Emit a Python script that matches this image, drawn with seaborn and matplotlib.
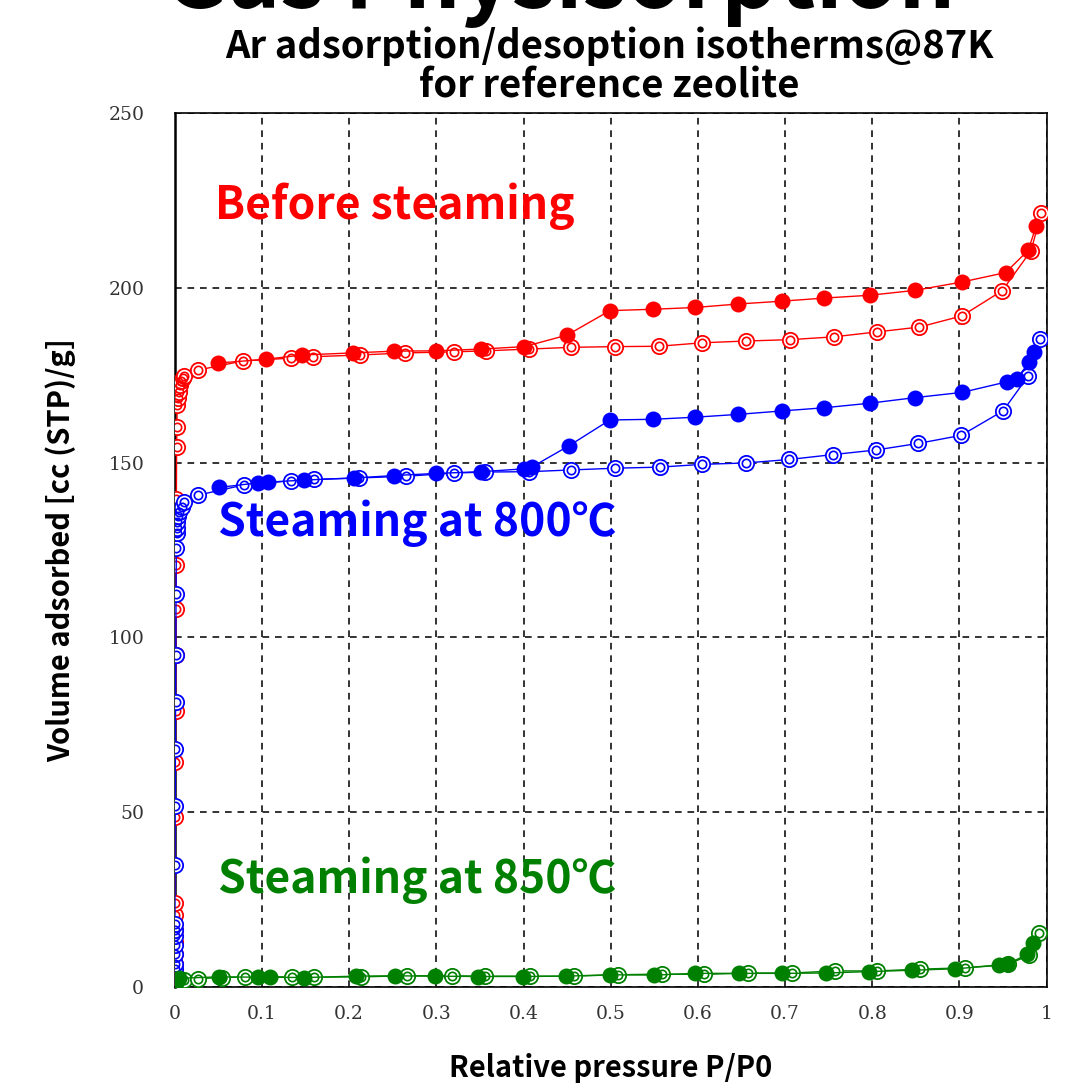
import numpy as np
import pandas as pd
import matplotlib
matplotlib.use("Agg")
import matplotlib.pyplot as plt
import seaborn as sns

# ---- Isotherm data: relative pressure P/P0 and adsorbed volume [cc(STP)/g] ----
# Before steaming
red_ads_x = [0.00002, 0.00004, 0.00007, 0.0001, 0.00013, 0.00016, 0.0002, 0.00025,
             0.0005, 0.0007, 0.0009, 0.0011, 0.0013, 0.0015, 0.0018, 0.0021, 0.0024,
             0.0028, 0.0035, 0.0045, 0.006, 0.0075, 0.009, 0.011, 0.027, 0.078,
             0.133, 0.158, 0.212, 0.264, 0.320, 0.357, 0.406, 0.455, 0.505, 0.555,
             0.605, 0.655, 0.706, 0.756, 0.805, 0.854, 0.903, 0.949, 0.982, 0.994]
red_ads_y = [1.5, 4.0, 6.6, 9.2, 12.7, 16.1, 20.5, 23.9, 48.6, 64.2, 79.0, 94.8,
             108.2, 120.8, 139.6, 154.4, 160.3, 166.5, 168.5, 170.3, 172.2, 173.3,
             174.1, 174.8, 176.5, 179.1, 179.9, 180.3, 180.8, 181.4, 181.7, 182.0,
             182.5, 183.0, 183.2, 183.3, 184.3, 184.8, 185.2, 186.0, 187.4, 188.8,
             192.0, 199.2, 210.6, 221.5]
red_des_x = [0.988, 0.979, 0.953, 0.903, 0.849, 0.797, 0.745, 0.696, 0.646, 0.597,
             0.549, 0.499, 0.450, 0.401, 0.351, 0.300, 0.251, 0.204, 0.146, 0.105, 0.050]
red_des_y = [217.8, 210.8, 204.4, 201.7, 199.3, 197.9, 197.1, 196.2, 195.4, 194.4,
             193.9, 193.5, 186.5, 183.2, 182.5, 182.0, 181.9, 181.4, 180.8, 179.6, 178.5]

# Steaming at 800 C
blue_ads_x = [0.00002, 0.00004, 0.00006, 0.00008, 0.0001, 0.00012, 0.00014, 0.00016,
              0.00018, 0.0003, 0.0005, 0.0007, 0.0009, 0.0011, 0.0014, 0.0018, 0.0022,
              0.0026, 0.003, 0.0035, 0.005, 0.008, 0.011, 0.027, 0.079, 0.133, 0.160,
              0.211, 0.265, 0.320, 0.356, 0.406, 0.455, 0.505, 0.556, 0.605, 0.655,
              0.705, 0.755, 0.804, 0.853, 0.902, 0.950, 0.979, 0.992]
blue_ads_y = [1.0, 3.0, 5.0, 6.6, 9.2, 11.8, 14.5, 16.3, 17.8, 34.9, 51.8, 68.1,
              81.5, 94.8, 112.3, 125.6, 129.8, 131.3, 133.1, 134.6, 136.0, 137.4,
              138.6, 140.7, 143.6, 144.8, 145.2, 145.6, 146.1, 147.0, 147.3, 147.4,
              147.9, 148.4, 148.7, 149.5, 149.9, 150.9, 152.3, 153.6, 155.5, 157.8,
              164.8, 174.8, 185.3]
blue_des_x = [0.986, 0.980, 0.966, 0.954, 0.903, 0.849, 0.797, 0.745, 0.697, 0.646,
              0.597, 0.549, 0.499, 0.452, 0.410, 0.400, 0.351, 0.300, 0.252, 0.206,
              0.148, 0.107, 0.095, 0.051]
blue_des_y = [181.7, 178.9, 173.9, 173.1, 170.1, 168.6, 167.0, 165.7, 164.8, 163.8,
              163.0, 162.4, 162.2, 154.8, 148.8, 148.2, 147.4, 146.9, 146.3, 145.6,
              145.0, 144.4, 144.2, 142.9]

# Steaming at 850 C
green_ads_x = [0.0001, 0.0005, 0.001, 0.002, 0.004, 0.007, 0.011, 0.027, 0.054,
               0.081, 0.134, 0.160, 0.214, 0.266, 0.318, 0.356, 0.407, 0.458, 0.508,
               0.559, 0.607, 0.658, 0.708, 0.757, 0.806, 0.855, 0.906, 0.956, 0.980, 0.991]
green_ads_y = [0.2, 0.5, 0.9, 1.3, 1.6, 1.8, 2.0, 2.3, 2.6, 2.8, 2.8, 2.7, 2.8, 3.1,
               3.1, 3.0, 3.0, 3.0, 3.4, 3.6, 3.5, 3.9, 3.9, 4.5, 4.5, 5.0, 5.4, 6.4,
               9.0, 15.3]
green_des_x = [0.984, 0.978, 0.955, 0.945, 0.895, 0.846, 0.796, 0.747, 0.697, 0.647,
               0.597, 0.550, 0.499, 0.449, 0.399, 0.348, 0.298, 0.253, 0.208, 0.148,
               0.109, 0.095, 0.051, 0.005, 0.002, 0.0005]
green_des_y = [12.4, 9.3, 6.4, 6.1, 5.1, 4.7, 4.3, 3.9, 3.8, 3.8, 3.8, 3.3, 3.4, 3.0,
               2.9, 2.9, 3.0, 3.1, 3.0, 2.6, 2.7, 2.7, 2.8, 2.4, 1.5, 0.5]

x_ticks = [0, 0.1, 0.2, 0.3, 0.4, 0.5, 0.6, 0.7, 0.8, 0.9, 1]
x_tick_labels = ["0", "0.1", "0.2", "0.3", "0.4", "0.5", "0.6", "0.7", "0.8", "0.9", "1"]
y_ticks = [0, 50, 100, 150, 200, 250]

sample_labels = ["Before steaming", "Steaming at 800\u2103", "Steaming at 850\u2103"]
label_pos = [(0.046, 223.5), (0.049, 132.5), (0.049, 30.5)]
colors = ["#ff0000", "#0000ff", "#008000"]

series = [
    (red_ads_x, red_ads_y, red_des_x, red_des_y),
    (blue_ads_x, blue_ads_y, blue_des_x, blue_des_y),
    (green_ads_x, green_ads_y, green_des_x, green_des_y),
]

# ---- Figure ----
sns.set_theme(style="white")
plt.rcParams["font.family"] = ["Noto Sans CJK JP", "DejaVu Sans"]

fig = plt.figure(figsize=(10.79, 10.89), dpi=100)
ax = fig.add_axes([0.162, 0.094, 0.808, 0.802])

for (ax_x, ax_y, de_x, de_y), c in zip(series, colors):
    ads = pd.DataFrame({"p": ax_x, "v": ax_y})
    des = pd.DataFrame({"p": de_x, "v": de_y})
    # adsorption branch: double-ring open markers
    sns.lineplot(data=ads, x="p", y="v", sort=False, estimator=None, ax=ax,
                 color=c, lw=1.0, marker="o", markersize=11,
                 markerfacecolor="white", markeredgecolor=c, markeredgewidth=1.3,
                 zorder=3)
    sns.lineplot(data=ads, x="p", y="v", sort=False, estimator=None, ax=ax,
                 color=c, lw=0, marker="o", markersize=6,
                 markerfacecolor="none", markeredgecolor=c, markeredgewidth=1.2,
                 zorder=3)
    # desorption branch: filled markers
    sns.lineplot(data=des, x="p", y="v", sort=False, estimator=None, ax=ax,
                 color=c, lw=1.0, marker="o", markersize=11.5,
                 markerfacecolor=c, markeredgecolor=c, markeredgewidth=0,
                 zorder=4)

for txt, (px, py), c in zip(sample_labels, label_pos, colors):
    ax.text(px, py, txt, color=c, fontsize=32, fontweight="bold",
            ha="left", va="center", zorder=5)

ax.set_xlim(0, 1)
ax.set_ylim(0, 250)
ax.set_xticks(x_ticks)
ax.set_xticklabels(x_tick_labels)
ax.set_yticks(y_ticks)
ax.grid(True, color="#111111", linestyle=(0, (4, 3.5)), linewidth=1.2)
ax.set_axisbelow(True)
ax.tick_params(axis="both", length=0, labelsize=13.5, labelcolor="#333333")
ax.tick_params(axis="x", pad=13)
ax.tick_params(axis="y", pad=22)
for lab in ax.get_xticklabels() + ax.get_yticklabels():
    lab.set_family("DejaVu Serif")
for s in ax.spines.values():
    s.set_color("black")
    s.set_linewidth(1.2)
ax.spines["left"].set_linewidth(1.8)

ax.set_xlabel("Relative pressure P/P0", fontsize=21, fontweight="bold",
              labelpad=22, color="black")
ax.set_ylabel("Volume adsorbed [cc (STP)/g]", fontsize=21, fontweight="bold",
              labelpad=23, color="black")

fig.text(0.565, 1 - 66 / 1089, "Ar adsorption/desoption isotherms@87K\nfor reference zeolite",
         ha="center", va="center", fontsize=27.5, fontweight="bold",
         linespacing=1.0, color="black")
fig.text(955 / 1079, 1 - 8 / 1089, "Gas Physisorption", ha="right", va="baseline",
         fontsize=64, fontweight="bold", color="black")

fig.savefig("out.png", dpi=100, facecolor="white")
